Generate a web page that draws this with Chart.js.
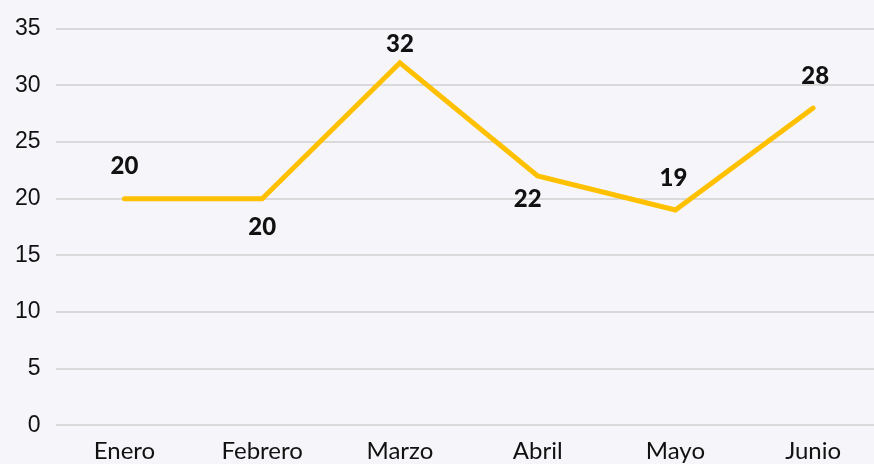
<!DOCTYPE html>
<html>
<head>
<meta charset="utf-8">
<script src="https://cdn.jsdelivr.net/npm/chart.js@4"></script>
<style>
  html, body { margin: 0; padding: 0; background: #f6f5fa; overflow: hidden; }
  #wrap { width: 882px; height: 478px; }
</style>
</head>
<body>
<div id="wrap"><canvas id="chartLine"></canvas></div>
<script>
// datos del gráfico
var meses = ['Enero', 'Febrero', 'Marzo', 'Abril', 'Mayo', 'Junio'];
var valores = [20, 20, 32, 22, 19, 28];
var ticksY = [0, 5, 10, 15, 20, 25, 30, 35];

// desplazamiento de cada etiqueta respecto a su punto
var despEtiquetas = [[0, -32], [0, 29], [0, -19], [-10, 23], [-2, -32], [2, -32]];

var etiquetasPlugin = {
    id: 'etiquetas',
    afterDatasetsDraw: function (chart) {
        var ctx = chart.ctx;
        var meta = chart.getDatasetMeta(0);
        ctx.save();
        ctx.font = '900 24px Lato, sans-serif';
        ctx.fillStyle = '#111111';
        ctx.textAlign = 'center';
        ctx.textBaseline = 'middle';
        meta.data.forEach(function (pt, i) {
            var d = despEtiquetas[i];
            ctx.fillText(String(valores[i]), pt.x + d[0], pt.y + d[1]);
        });
        ctx.restore();
    }
};

var chartLine = new Chart(document.getElementById('chartLine'), {
    type: 'line',
    data: {
        labels: meses,
        datasets: [{
            data: valores,
            borderColor: '#ffc000',
            borderWidth: 5,
            borderCapStyle: 'round',
            pointRadius: 0,
            tension: 0,
            fill: false
        }]
    },
    options: {
        responsive: true,
        maintainAspectRatio: false,
        animation: false,
        layout: { padding: { top: 14, right: 0, bottom: 0, left: 0 } },
        plugins: {
            legend: { display: false },
            tooltip: { enabled: false }
        },
        scales: {
            x: {
                offset: true,
                grid: { display: false, drawTicks: false },
                border: { display: false },
                ticks: {
                    color: '#111111',
                    padding: 12,
                    font: { family: 'Lato, sans-serif', size: 24 }
                }
            },
            y: {
                min: 0,
                max: 35,
                afterBuildTicks: function (axis) {
                    axis.ticks = ticksY.map(function (v) { return { value: v }; });
                },
                grid: { color: '#d9d9d9', lineWidth: 2, drawTicks: false },
                border: { display: false },
                ticks: {
                    color: '#111111',
                    padding: 15,
                    font: { family: '"Liberation Sans", sans-serif', size: 23 }
                }
            }
        }
    },
    plugins: [etiquetasPlugin]
});
</script>
</body>
</html>
